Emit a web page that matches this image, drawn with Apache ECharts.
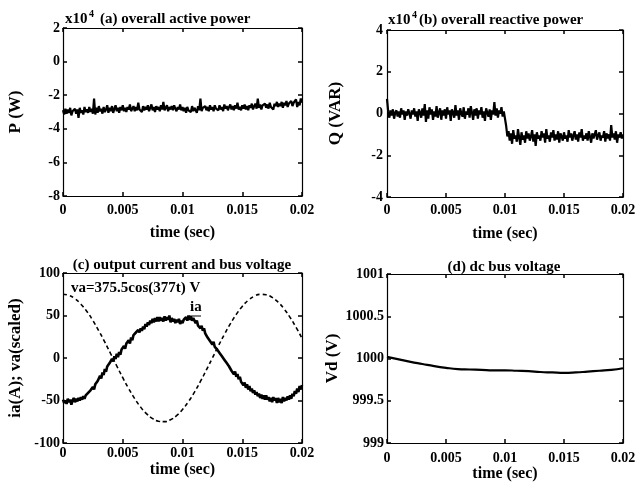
<!DOCTYPE html>
<html><head><meta charset="utf-8">
<script src="https://cdn.jsdelivr.net/npm/echarts@6/dist/echarts.min.js"></script>
<style>html,body{margin:0;padding:0;background:#fff}#c{width:640px;height:489px}</style>
</head><body><div id="c"></div>
<script>
// ---- data ----
const xTicks = [0, 0.005, 0.01, 0.015, 0.02];
const sampleStep = 0.0001;   // noisy traces: one sample every 0.1 ms (0 .. 0.02 s)
// (a) overall active power, x10^4 W
const activePower = [
  -2.90,-3.15,-2.80,-3.10,-2.85,-3.05,-2.75,-3.20,-2.95,-3.00,
  -2.80,-3.10,-2.85,-3.35,-2.75,-3.05,-2.90,-3.15,-2.70,-3.00,
  -2.85,-3.05,-2.70,-3.00,-2.80,-3.10,-2.20,-3.15,-2.75,-3.05,
  -2.65,-2.95,-2.80,-3.10,-2.70,-3.00,-2.85,-2.60,-3.05,-2.75,
  -2.95,-2.65,-3.05,-2.80,-2.60,-2.95,-2.75,-3.05,-2.70,-2.90,
  -2.60,-2.95,-2.75,-3.00,-2.70,-2.85,-2.55,-2.95,-2.80,-2.65,
  -2.95,-2.70,-2.90,-2.45,-2.85,-2.75,-3.00,-2.65,-2.90,-2.70,
  -2.85,-2.60,-2.95,-2.75,-2.55,-2.90,-2.70,-3.00,-2.65,-2.85,
  -2.70,-2.95,-2.60,-2.85,-2.40,-2.90,-2.75,-2.60,-2.95,-2.70,
  -2.85,-2.65,-2.90,-2.60,-2.80,-2.95,-2.70,-2.85,-2.55,-2.90,
  -2.70,-2.95,-2.75,-3.05,-2.70,-2.90,-2.80,-3.00,-2.65,-2.95,
  -2.75,-2.85,-3.05,-2.65,-2.90,-2.20,-2.95,-2.75,-2.85,-2.65,
  -2.90,-2.70,-2.95,-2.60,-2.85,-2.70,-2.95,-2.60,-2.80,-2.70,
  -2.90,-2.60,-2.85,-2.70,-2.95,-2.55,-2.80,-2.65,-2.90,-2.70,
  -2.55,-2.85,-2.65,-2.90,-2.60,-2.80,-2.45,-2.85,-2.70,-2.90,
  -2.60,-2.80,-2.55,-2.85,-2.65,-2.90,-2.60,-2.75,-2.50,-2.85,
  -2.65,-2.50,-2.80,-2.20,-2.75,-2.55,-2.85,-2.60,-2.70,-2.50,
  -2.75,-2.55,-2.80,-2.45,-2.70,-2.60,-2.85,-2.50,-2.65,-2.40,
  -2.70,-2.50,-2.65,-2.40,-2.75,-2.45,-2.60,-2.35,-2.70,-2.50,
  -2.60,-2.35,-2.65,-2.45,-2.55,-2.25,-2.70,-2.40,-2.60,-2.20,
  -2.45
];
// (b) overall reactive power, x10^4 VAR
const reactivePower = [
   0.70, 0.10,-0.20, 0.15,-0.10, 0.20,-0.25, 0.05, 0.15,-0.15,
   0.10,-0.20, 0.25,-0.05, 0.15,-0.30, 0.10,-0.10, 0.20, 0.00,
  -0.25, 0.15,-0.05, 0.25,-0.15, 0.10,-0.35, 0.20, 0.05,-0.20,
   0.25,-0.10, 0.45,-0.40, 0.15,-0.25, 0.30,-0.05, 0.20,-0.30,
   0.10,-0.15, 0.35,-0.20, 0.05, 0.25,-0.30, 0.15,-0.10, 0.20,
  -0.25, 0.30,-0.05, 0.15,-0.35, 0.20, 0.05,-0.20, 0.40,-0.10,
   0.15,-0.30, 0.25, 0.00,-0.15, 0.30,-0.25, 0.10,-0.05, 0.25,
  -0.20, 0.35, 0.05,-0.30, 0.20,-0.10, 0.25,-0.25, 0.15,-0.05,
   0.30,-0.20, 0.10,-0.35, 0.25, 0.05,-0.15, 0.20,-0.30, 0.15,
  -0.05, 0.55,-0.10, 0.25,-0.20, 0.15, 0.00, 0.30,-0.15, 0.10,
   0.05,-0.60,-1.10,-0.85,-1.30,-0.95,-1.45,-0.80,-1.20,-1.05,
  -1.35,-0.75,-1.15,-1.50,-0.90,-1.25,-1.05,-1.40,-0.85,-1.20,
  -0.95,-1.30,-1.10,-0.80,-1.35,-1.00,-1.55,-0.90,-1.20,-1.05,
  -1.30,-0.85,-1.15,-0.95,-1.40,-0.75,-1.20,-1.05,-1.35,-0.90,
  -1.15,-0.80,-1.30,-1.00,-1.25,-0.85,-1.40,-0.95,-1.10,-1.30,
  -0.90,-1.20,-1.05,-1.35,-0.80,-1.15,-0.95,-1.30,-1.05,-0.85,
  -1.25,-1.00,-1.35,-0.90,-1.15,-0.75,-1.30,-1.05,-1.20,-0.95,
  -1.30,-0.85,-1.10,-1.40,-0.95,-1.20,-1.00,-0.80,-1.25,-1.05,
  -0.90,-1.30,-1.05,-1.15,-0.85,-1.35,-0.95,-1.20,-1.00,-1.30,
  -0.55,-1.15,-0.95,-1.25,-0.85,-1.40,-1.00,-1.15,-0.90,-1.20,
  -1.00
];
// (c) output current ia, A
const currentIa = [
  -49,-53,-50,-54,-48,-52,-49,-55,-50,-47,
  -52,-48,-51,-47,-50,-46,-49,-45,-48,-44,
  -46,-41,-43,-38,-40,-34,-37,-31,-33,-27,
  -27,-21,-24,-17,-20,-13,-16,-10,-12, -6,
   -7, -1, -4,  2, -1,  5,  1,  7,  4, 10,
    9, 14, 11, 17, 15, 21, 17, 24, 21, 27,
   25, 30, 28, 33, 30, 35, 32, 37, 34, 40,
   37, 42, 39, 44, 41, 46, 42, 47, 43, 48,
   43, 48, 44, 47, 43, 49, 44, 48, 45, 50,
   42, 47, 43, 46, 41, 45, 42, 46, 40, 44,
   41, 45, 43, 48, 44, 50, 45, 49, 44, 47,
   45, 41, 44, 38, 40, 35, 38, 32, 35, 29,
   29, 24, 26, 20, 22, 16, 19, 13, 15, 10,
   11,  6,  8,  2,  4, -2,  0, -6, -4,-10,
   -9,-15,-13,-19,-16,-22,-19,-25,-22,-28,
  -26,-32,-29,-35,-31,-37,-33,-39,-36,-41,
  -38,-43,-40,-45,-42,-47,-43,-48,-44,-49,
  -44,-49,-46,-51,-47,-52,-46,-50,-47,-53,
  -47,-52,-48,-53,-46,-51,-47,-50,-45,-49,
  -44,-48,-42,-45,-39,-42,-36,-40,-33,-37,
  -32
];
// (c) bus voltage va (scaled), one sample every 0.5 ms
const vaStep = 0.0005;
const voltageVa = [
  75.0, 73.7, 69.7, 63.3, 54.7, 44.1, 31.9, 18.7,  4.7, -9.4,
 -23.2,-36.1,-47.8,-57.8,-65.7,-71.3,-74.4,-74.9,-72.6,-67.9,
 -60.7,-51.3,-40.2,-27.6,-14.1,  0.0, 14.1, 27.6, 40.2, 51.3,
  60.7, 67.9, 72.6, 74.9, 74.4, 71.3, 65.7, 57.8, 47.8, 36.1,
  23.2
];
// (d) dc bus voltage, V, one sample every 1 ms
const dcStep = 0.001;
const dcVoltage = [
  1000.02, 999.99, 999.96, 999.935, 999.91, 999.89, 999.875, 999.87, 999.865, 999.86,
  999.86, 999.855, 999.85, 999.84, 999.835, 999.83, 999.835, 999.845, 999.855, 999.865,
  999.885
];

// ---- chart ----
const FONT = "'Liberation Serif','Times New Roman',serif";
const ink = '#000';
function pairs(arr, step){ return arr.map((v,i)=>[+(i*step).toFixed(4), v]); }

const grids = [
  {left:63, top:28, width:239, height:168},
  {left:387, top:30, width:236, height:167},
  {left:63, top:273, width:239, height:170},
  {left:387, top:274, width:236, height:169}
];
const yCfg = [
  {min:-8, max:2, interval:2, name:'P (W)', gap:39, lm:3},
  {min:-4, max:4, interval:2, name:'Q (VAR)', gap:43, lm:4},
  {min:-100, max:100, interval:50, name:'ia(A); va(scaled)', gap:39, lm:3},
  {min:999, max:1001, interval:0.5, name:'Vd (V)', gap:43, lm:3}
];
const xCfg = [ {lm:7, gap:29}, {lm:6, gap:29}, {lm:3, gap:19}, {lm:8, gap:19} ];

const xAxes = [], yAxes = [];
grids.forEach((g, i) => {
  const common = {
    type:'value', gridIndex:i, min:0, max:0.02, interval:0.005,
    axisLine:{show:true, onZero:false, lineStyle:{color:ink, width:1.2}},
    axisTick:{show:true, inside:true, length:4, lineStyle:{color:ink, width:1.5}},
    splitLine:{show:false}
  };
  xAxes.push(Object.assign({}, common, {
    position:'bottom',
    axisLabel:{margin:xCfg[i].lm, color:ink, fontFamily:FONT, fontWeight:'bold', fontSize:14,
      formatter:v=>String(+v.toFixed(3))},
    name:'time (sec)', nameLocation:'middle', nameGap:xCfg[i].gap,
    nameTextStyle:{color:ink, fontFamily:FONT, fontWeight:'bold', fontSize:16}
  }));
  xAxes.push(Object.assign({}, common, {position:'top', axisLabel:{show:false}}));
  const yc = yCfg[i];
  const ycommon = {
    type:'value', gridIndex:i, min:yc.min, max:yc.max, interval:yc.interval,
    axisLine:{show:true, onZero:false, lineStyle:{color:ink, width:1.2}},
    axisTick:{show:true, inside:true, length:4, lineStyle:{color:ink, width:1.5}},
    splitLine:{show:false}
  };
  yAxes.push(Object.assign({}, ycommon, {
    position:'left',
    axisLabel:{margin:yc.lm, color:ink, fontFamily:FONT, fontWeight:'bold', fontSize:14,
      formatter:v=>String(+v.toFixed(2))},
    name:yc.name, nameLocation:'middle', nameGap:yc.gap, nameRotate:90,
    nameTextStyle:{color:ink, fontFamily:FONT, fontWeight:'bold', fontSize:17}
  }));
  yAxes.push(Object.assign({}, ycommon, {position:'right', axisLabel:{show:false}}));
});

function line(gi, data, extra){
  return Object.assign({
    type:'line', xAxisIndex:gi*2, yAxisIndex:gi*2, data:data,
    showSymbol:false, symbol:'none', animation:false, silent:true,
    lineStyle:{color:ink, width:2.2}
  }, extra||{});
}

const tf = (size, weight) => `${weight||'bold'} ${size}px ${FONT}`;
const txt = (text, x, y, size, align) => ({
  type:'text', x:x, y:y, silent:true,
  style:{text:text, font:tf(size), fill:ink, align:align||'left', verticalAlign:'middle'}
});

const option = {
  animation:false,
  backgroundColor:'#fff',
  grid: grids.map(g => Object.assign({containLabel:false}, g)),
  xAxis: xAxes,
  yAxis: yAxes,
  series: [
    line(0, pairs(activePower, sampleStep)),
    line(1, pairs(reactivePower, sampleStep)),
    line(2, pairs(currentIa, sampleStep), {lineStyle:{color:ink, width:2.6}}),
    line(2, pairs(voltageVa, vaStep), {smooth:true, lineStyle:{color:ink, width:1.6, type:[4,3]}}),
    line(3, pairs(dcVoltage, dcStep), {smooth:true, lineStyle:{color:ink, width:2.2}})
  ],
  graphic: [
    txt('x10', 65, 19, 15), txt('4', 89, 14, 10), txt('(a) overall active power', 100, 19, 15),
    txt('x10', 388, 20, 15), txt('4', 412, 15, 10), txt('(b) overall reactive power', 419, 20, 15),
    txt('(c) output current and bus voltage', 182, 265, 15, 'center'),
    txt('(d) dc bus voltage', 504, 267, 15, 'center'),
    txt('va=375.5cos(377t) V', 71, 288, 15),
    txt('ia', 190, 307, 15),
    {type:'line', silent:true, shape:{x1:189, y1:316, x2:201, y2:316}, style:{stroke:ink, lineWidth:1}}
  ]
};
const chart = echarts.init(document.getElementById('c'), null, {renderer:'canvas'});
chart.setOption(option);
</script></body></html>
